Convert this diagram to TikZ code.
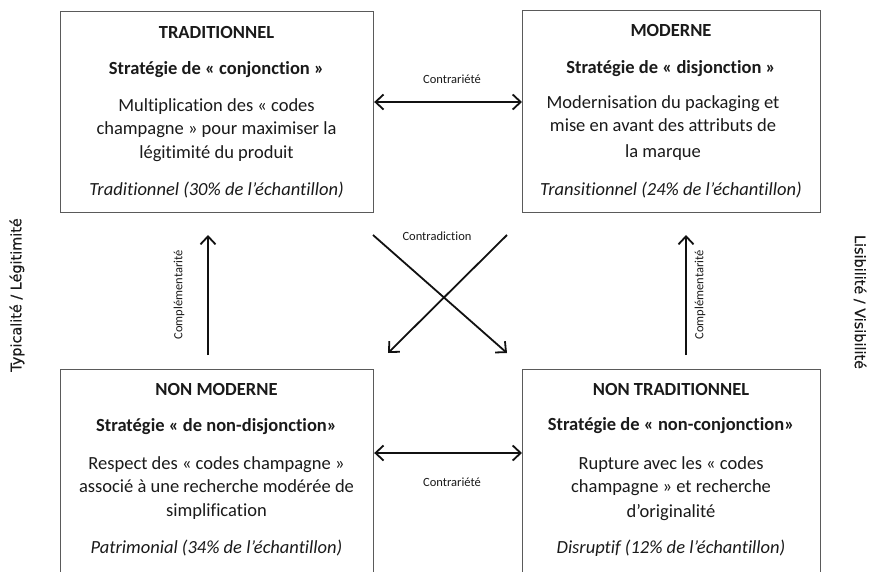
\documentclass[tikz,border=0pt]{standalone}
\usepackage{fontspec}
\setmainfont{Carlito}[Ligatures={NoCommon},RawFeature={-liga;-clig}]
\newfontfamily\sidefont{DejaVu Sans}[FakeBold=0.6]
\usetikzlibrary{arrows.meta}
\definecolor{txt}{HTML}{1A1A1A}
\definecolor{frame}{HTML}{5A5A5A}
\definecolor{arrowc}{HTML}{111111}
\begin{document}
\begin{tikzpicture}[x=1pt,y=-1pt,
  box/.style={draw=frame,line width=1.2pt,anchor=north west,inner sep=0pt,fill=none},
  tline/.style={anchor=base,inner sep=0pt,text=txt,font=\fontsize{18.5}{23}\selectfont},
  ttl/.style={tline,font=\fontsize{18.5}{23}\selectfont\bfseries},
  itl/.style={tline,font=\fontsize{18.5}{23}\selectfont\itshape},
  small/.style={inner sep=0pt,text=txt,font=\fontsize{12.5}{14}\selectfont},
  side/.style={inner sep=0pt,text=txt,font=\sidefont\fontsize{14.4}{16}\selectfont},
  arr/.style={draw=arrowc,line width=1.8pt,-{Straight Barb[length=8pt,width=15pt]}},
  darr/.style={draw=arrowc,line width=1.8pt,{Straight Barb[length=8pt,width=15pt]}-{Straight Barb[length=8pt,width=15pt]}}]
\useasboundingbox (0,0) rectangle (871,571);
\fill[white] (0,0) rectangle (871,571);
\clip (0,0) rectangle (871,571);

% boxes
\node[box,minimum width=313pt,minimum height=201pt] (TL) at (60,11) {};
\node[box,minimum width=298pt,minimum height=202pt] (TR) at (522,10) {};
\node[box,minimum width=313pt,minimum height=216pt] (BL) at (60,369) {};
\node[box,minimum width=298pt,minimum height=216pt] (BR) at (522,369) {};

% TL texts
\node[ttl] (tl1) at (216.5,38) {TRADITIONNEL};
\node[ttl] (tl2) at (216.5,74) {Stratégie de « conjonction »};
\node[tline] (tl3) at (216.5,111) {Multiplication des « codes};
\node[tline] (tl4) at (216.5,134.5) {champagne » pour maximiser la};
\node[tline] (tl5) at (216.5,158) {légitimité du produit};
\node[itl] (tl6) at (216.5,195) {Traditionnel (30\% de l’échantillon)};

% TR texts
\node[ttl] (tr1) at (671,36) {MODERNE};
\node[ttl] (tr2) at (671,73) {Stratégie de « disjonction »};
\node[tline] (tr3) at (663,108) {Modernisation du packaging et};
\node[tline] (tr4) at (663,131.5) {mise en avant des attributs de};
\node[tline] (tr5) at (663,157) {la marque};
\node[itl] (tr6) at (671,195) {Transitionnel (24\% de l’échantillon)};

% BL texts
\node[ttl] (bl1) at (216.5,395) {NON MODERNE};
\node[ttl] (bl2) at (216.5,431) {Stratégie « de non-disjonction»};
\node[tline] (bl3) at (216.5,469) {Respect des « codes champagne »};
\node[tline] (bl4) at (216.5,492.5) {associé à une recherche modérée de};
\node[tline] (bl5) at (216.5,516) {simplification};
\node[itl] (bl6) at (216.5,553) {Patrimonial (34\% de l’échantillon)};

% BR texts
\node[ttl] (br1) at (671,395) {NON TRADITIONNEL};
\node[ttl] (br2) at (671,430) {Stratégie de « non-conjonction»};
\node[tline] (br3) at (671,469) {Rupture avec les « codes};
\node[tline] (br4) at (671,492.5) {champagne » et recherche};
\node[tline] (br5) at (671,517) {d’originalité};
\node[itl] (br6) at (671,553) {Disruptif (12\% de l’échantillon)};

% horizontal arrows
\coordinate (ht) at (0,102);
\coordinate (hb) at (0,453);
\draw[darr] (TL.east |- ht) -- (TR.west |- ht);
\draw[darr] (BL.east |- hb) -- (BR.west |- hb);
\node[small] (c1) at (452,79) {Contrariété};
\node[small] (c2) at (452,482) {Contrariété};

% vertical arrows
\coordinate (vl1) at (208,355);
\coordinate (vl2) at (208,235);
\coordinate (vr1) at (686,355);
\coordinate (vr2) at (686,235);
\draw[arr] (vl1) -- (vl2);
\draw[arr] (vr1) -- (vr2);
\node[small,rotate=90] (cp1) at (179,295) {Complémentarité};
\node[small,rotate=90] (cp2) at (700,295) {Complémentarité};

% cross arrows
\coordinate (xa1) at (373,235);
\coordinate (xa2) at (507,353);
\coordinate (xb1) at (507,235);
\coordinate (xb2) at (388,353);
\draw[arr] (xa1) -- (xa2);
\draw[arr] (xb1) -- (xb2);
\node[small] (cd) at (437,236) {Contradiction};

% side labels
\node[side,rotate=90] (sl) at (17,295) {Typicalité / Légitimité};
\node[side,rotate=-90] (sr) at (860,302) {Lisibilité / Visibilité};
\end{tikzpicture}
\end{document}
